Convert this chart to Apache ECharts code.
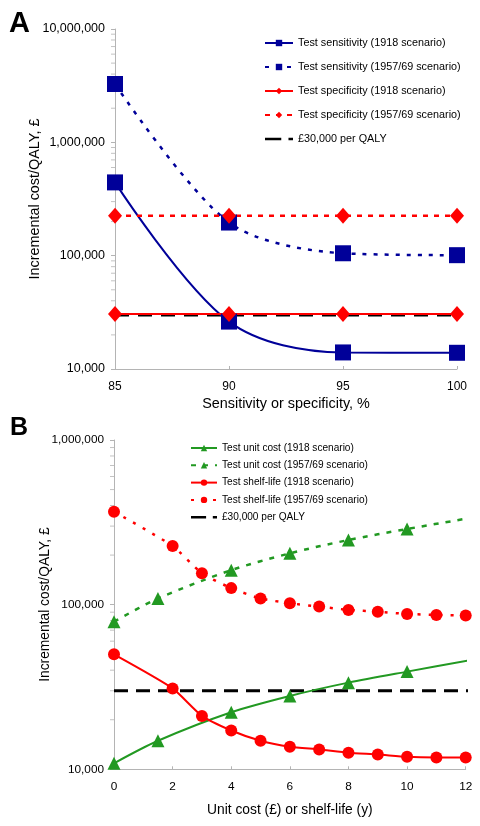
<!DOCTYPE html>
<html><head><meta charset="utf-8">
<script src="https://cdn.jsdelivr.net/npm/echarts@6/dist/echarts.min.js"></script>
<style>html,body{margin:0;padding:0;background:#fff}#c{width:480px;height:826px}</style>
</head><body><div id="c"></div>
<script>
// ---------- Panel A data ----------
const aX = [85, 90, 95, 100];
const aSens1918 = [443000, 26200, 14000, 13900];
const aSens1957 = [3270000, 196000, 105000, 101000];
const aSpec1918 = [30600, 30600, 30600, 30600];
const aSpec1957 = [225000, 225000, 225000, 225000];
const aThresholdX = [85, 100];
const aThreshold = [30000, 30000];

// ---------- Panel B data ----------
const bUnitX = [0, 1.5, 4, 6, 8, 10, 12.2];
const bUnit1918 = [10870, 14900, 22200, 27900, 33600, 39200, 46100];
const bUnit1957 = [78800, 109000, 162000, 205000, 247000, 288000, 337000];
const bUnitMarked = [true, true, true, true, true, true, false];
const bShelfX = [0, 2, 3, 4, 5, 6, 7, 8, 9, 10, 11, 12];
const bShelf1918 = [49900, 31000, 21100, 17200, 14900, 13700, 13200, 12600, 12300, 11900, 11800, 11800];
const bShelf1957 = [367000, 227000, 155000, 126000, 109000, 102000, 97300, 92900, 90600, 87800, 86600, 85800];
const bThresholdX = [0, 12.2];
const bThreshold = [30000, 30000];

// ---------- axis ticks ----------
const aDecades = [10000, 100000, 1000000];
const bDecades = [10000, 100000];
const minorMultipliers = [2, 3, 4, 5, 6, 7, 8, 9];

const FONT = '"Liberation Sans", Arial, sans-serif';
const AXIS_GREY = '#b4b4b4';
const BLUE = '#000099', RED = '#ff0000', GREEN = '#229922';

function pairs(xs, ys) { return xs.map((x, i) => [x, ys[i]]); }
function fmt(v) { return String(Math.round(v)).replace(/\B(?=(\d{3})+(?!\d))/g, ','); }
function minorTicks(decades, x) {
  const out = [];
  decades.forEach(d => minorMultipliers.forEach(m => out.push([x, d * m])));
  return out;
}

function xAxisCfg(gi, min, max, interval, name, nameGap, labelSize, nameSize, margin) {
  return {
    type: 'value', gridIndex: gi, min, max, interval,
    name, nameLocation: 'middle', nameGap, nameMoveOverlap: false,
    nameTextStyle: { fontSize: nameSize, color: '#000', fontFamily: FONT },
    axisLine: { show: true, lineStyle: { color: AXIS_GREY, width: 1 } },
    axisTick: { show: true, inside: true, length: 3, lineStyle: { color: AXIS_GREY } },
    axisLabel: { fontSize: labelSize, color: '#000', fontFamily: FONT, margin,
      formatter: v => (Math.abs(v - Math.round(v)) < 1e-6 ? String(Math.round(v)) : '') },
    splitLine: { show: false }
  };
}
function yAxisCfg(gi, min, max, nameGap, labelSize, nameSize, margin) {
  return {
    type: 'log', logBase: 10, gridIndex: gi, min, max,
    name: 'Incremental cost/QALY, £', nameLocation: 'middle', nameGap, nameRotate: 90,
    nameMoveOverlap: false,
    nameTextStyle: { fontSize: nameSize, color: '#000', fontFamily: FONT },
    axisLine: { show: true, lineStyle: { color: AXIS_GREY, width: 1 } },
    axisTick: { show: true, inside: false, length: 4, lineStyle: { color: AXIS_GREY } },
    axisLabel: { fontSize: labelSize, color: '#000', fontFamily: FONT, margin, formatter: fmt },
    splitLine: { show: false }, minorTick: { show: false }
  };
}
function lineSeries(name, gi, data, color, symbol, size, width, dash, smooth, z) {
  return {
    type: 'line', name, xAxisIndex: gi, yAxisIndex: gi, data,
    symbol, symbolSize: size, showSymbol: symbol !== 'none', smooth,
    clip: false, z: z || 2,
    itemStyle: { color },
    lineStyle: { color, width, type: dash || 'solid', cap: 'butt' },
    emphasis: { disabled: true }, silent: true
  };
}
function minorSeries(gi, data) {
  return {
    type: 'scatter', xAxisIndex: gi, yAxisIndex: gi, data,
    symbol: 'rect', symbolSize: [4, 1], symbolOffset: [-2, 0],
    itemStyle: { color: AXIS_GREY }, silent: true, clip: false, z: 1,
    emphasis: { disabled: true }
  };
}

const thresholdIcon = 'path://M0,0 H18 V3 H0 Z M26,0 H31 V3 H26 Z';

const bUnit1918Data = bUnitX.map((x, i) => bUnitMarked[i] ? [x, bUnit1918[i]] : { value: [x, bUnit1918[i]], symbol: 'none' });
const bUnit1957Data = bUnitX.map((x, i) => bUnitMarked[i] ? [x, bUnit1957[i]] : { value: [x, bUnit1957[i]], symbol: 'none' });

const option = {
  animation: false,
  backgroundColor: '#fff',
  textStyle: { fontFamily: FONT },
  graphic: [
    { type: 'text', left: 9, top: 9, style: { text: 'A', font: 'bold 29px ' + FONT, fill: '#000' } },
    { type: 'text', left: 10, top: 416, style: { text: 'B', font: 'bold 25px ' + FONT, fill: '#000' } }
  ],
  grid: [
    { left: 115, top: 29, width: 342, height: 340, outerBoundsMode: 'none', containLabel: false },
    { left: 114, top: 440, width: 351.7, height: 329.3, outerBoundsMode: 'none', containLabel: false }
  ],
  xAxis: [
    xAxisCfg(0, 85, 100, 5, 'Sensitivity or specificity, %', 28, 12, 14.4, 12),
    xAxisCfg(1, 0, 12, 2, 'Unit cost (£) or shelf-life (y)', 34, 11.8, 13.8, 11)
  ],
  yAxis: [
    yAxisCfg(0, 10000, 10000000, 73, 12.5, 14.4, 10),
    yAxisCfg(1, 10000, 1000000, 62, 11.8, 13.8, 10)
  ],
  legend: [
    {
      orient: 'vertical', left: 264, top: 37, padding: 0, itemGap: 12,
      itemWidth: 28, itemHeight: 8, selectedMode: false,
      textStyle: { fontSize: 10.8, color: '#000', fontFamily: FONT, lineHeight: 12 },
      data: [
        'Test sensitivity (1918 scenario)',
        'Test sensitivity (1957/69 scenario)',
        'Test specificity (1918 scenario)',
        'Test specificity (1957/69 scenario)',
        { name: '£30,000 per QALY', icon: thresholdIcon, itemStyle: { color: '#000' } }
      ]
    },
    {
      orient: 'vertical', left: 190, top: 442, padding: 0, itemGap: 5.3,
      itemWidth: 26, itemHeight: 8, selectedMode: false,
      textStyle: { fontSize: 10.1, color: '#000', fontFamily: FONT, lineHeight: 12 },
      data: [
        'Test unit cost (1918 scenario)',
        'Test unit cost (1957/69 scenario)',
        'Test shelf-life (1918 scenario)',
        'Test shelf-life (1957/69 scenario)',
        { name: '£30,000 per QALY ', icon: thresholdIcon, itemStyle: { color: '#000' } }
      ]
    }
  ],
  series: [
    minorSeries(0, minorTicks(aDecades, 85)),
    minorSeries(1, minorTicks(bDecades, 0)),
    // Panel A
    lineSeries('£30,000 per QALY', 0, pairs(aThresholdX, aThreshold), '#000', 'none', 0, 3, [14, 9], false, 1),
    lineSeries('Test sensitivity (1918 scenario)', 0, pairs(aX, aSens1918), BLUE, 'rect', 16, 2, 'solid', 0.33),
    lineSeries('Test sensitivity (1957/69 scenario)', 0, pairs(aX, aSens1957), BLUE, 'rect', 16, 2.5, [4, 7], 0.3),
    lineSeries('Test specificity (1918 scenario)', 0, pairs(aX, aSpec1918), RED, 'diamond', [14, 16], 2, 'solid', false),
    lineSeries('Test specificity (1957/69 scenario)', 0, pairs(aX, aSpec1957), RED, 'diamond', [14, 16], 2.5, [5, 6], false),
    // Panel B
    lineSeries('£30,000 per QALY ', 1, pairs(bThresholdX, bThreshold), '#000', 'none', 0, 3, [14, 8], false, 1),
    lineSeries('Test unit cost (1918 scenario)', 1, bUnit1918Data, GREEN, 'triangle', 13, 2, 'solid', 0.3),
    lineSeries('Test unit cost (1957/69 scenario)', 1, bUnit1957Data, GREEN, 'triangle', 13, 2.5, [5, 7], 0.3),
    lineSeries('Test shelf-life (1918 scenario)', 1, pairs(bShelfX, bShelf1918), RED, 'circle', 12, 2, 'solid', 0.2),
    lineSeries('Test shelf-life (1957/69 scenario)', 1, pairs(bShelfX, bShelf1957), RED, 'circle', 12, 2.5, [3, 8], 0.2)
  ]
};

const chart = echarts.init(document.getElementById('c'), null, { renderer: 'canvas', width: 480, height: 826 });
chart.setOption(option);
</script>
</body></html>
